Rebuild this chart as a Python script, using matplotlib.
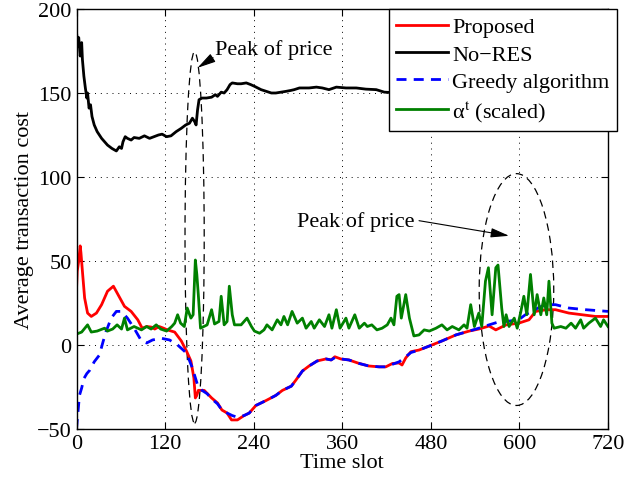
import numpy as np
import matplotlib
matplotlib.use('Agg')
import matplotlib.pyplot as plt
from matplotlib.patches import Ellipse

plt.rcParams['font.family'] = 'serif'
plt.rcParams['font.serif'] = ['Liberation Serif', 'DejaVu Serif']
plt.rcParams['mathtext.fontset'] = 'stix'
plt.rcParams['font.size'] = 16

# ---- data ----
# No-RES
t_nores = [0, 2, 3, 5, 7, 8, 10, 12, 14, 15, 17, 19, 21, 24, 28, 34, 42, 48, 54, 58, 61, 63, 66, 69,
           74, 78, 85, 92, 99, 105, 111, 116, 122, 128, 135, 142, 148, 153, 157, 160, 162, 164, 166,
           170, 176, 183, 188, 191, 196, 200, 204, 208, 211, 218, 223, 230, 236, 241, 250, 257, 264,
           270, 277, 284, 290, 295, 302, 315, 325, 333, 342, 352, 365, 379, 392, 406, 417, 440, 480,
           520, 560, 600, 640, 680, 720]
nores = [186, 178, 183, 172, 180, 170, 160, 153, 147, 150, 141, 143, 136, 131, 127, 123, 119, 117,
         115.5, 118, 117, 121, 124, 123, 122, 123.5, 123, 124.5, 123, 124, 125, 125.5, 124, 124.5,
         127, 129, 131, 132, 135, 133, 131, 140, 146, 147, 147, 147.5, 149, 148, 150.5, 150, 152,
         155, 156, 155.5, 155.5, 156, 155, 154, 152, 151, 150, 150, 150.5, 151, 151.5, 152, 153,
         153, 153.5, 153, 152, 153.5, 153, 153, 152.3, 152, 150.5, 150, 150, 150, 151, 151, 151,
         150, 150]

# Proposed
t_prop = [0, 1, 3, 5, 6, 8, 11, 15, 20, 27, 34, 42, 50, 55, 60, 65, 74, 83, 89, 95, 101, 106, 112,
          118, 123, 133, 142, 149, 155, 159, 161, 163, 165, 173, 183, 191, 197, 204, 210, 218, 227,
          234, 243, 257, 270, 279, 291, 297, 306, 315, 326, 338, 345, 350, 358, 369, 383, 396, 410,
          419, 428, 437, 441, 446, 453, 464, 478, 495, 514, 532, 545, 559, 568, 582, 599, 613, 622,
          636, 649, 667, 685, 703, 720]
prop = [33, 44, 50, 59, 55, 44, 28, 19, 17, 19, 24, 32, 35, 31, 27, 23, 20, 15, 10, 11, 10.7, 9.5,
        11, 10, 9, 7.7, 2.4, -3.6, -9.5, -19.6, -31.5, -30, -27, -27, -31.5, -34.5, -38.7, -40.5,
        -44.6, -44.6, -42, -40.5, -36, -33, -30, -27, -24.5, -21, -15.5, -12.5, -9.5, -8.3, -8.9,
        -7, -8.3, -8.9, -11, -12.5, -13, -13, -11, -10.7, -11.9, -7.7, -4, -3, -0.6, 2.4, 6, 8.3,
        9.5, 11.3, 9, 12, 13, 15, 20, 21, 21, 19, 18, 17, 17]

# Greedy algorithm
t_greedy = [0, 2, 4, 7, 10, 14, 18, 24, 31, 36, 40, 47, 54, 61, 69, 78, 88, 95, 103, 115, 126, 137,
            149, 157, 164, 170, 177, 183, 191, 197, 204, 211, 218, 227, 234, 243, 257, 270, 279,
            291, 297, 306, 315, 326, 338, 345, 350, 358, 369, 383, 396, 410, 419, 428, 437, 446,
            453, 464, 478, 495, 514, 532, 545, 559, 570, 582, 599, 608, 617, 627, 636, 649, 667,
            690, 720]
greedy = [-50, -40, -30, -25.6, -20, -17, -15, -10, -6, 2, 8, 16, 20, 20, 16, 10, 2.4, 1.2, 3, 4, 3,
          0, -4.8, -13.7, -23.8, -27, -29, -32, -35, -38.7, -40.5, -42, -43, -42, -40.5, -36, -33,
          -30, -27, -24.5, -21, -15.5, -12.5, -9.5, -8.3, -8.9, -7.5, -8.3, -8.9, -11, -12.5, -13,
          -13, -11.5, -10, -7, -4.5, -3, -0.6, 2.4, 6, 8.3, 10, 12, 13.5, 14, 15, 18, 20, 22.5, 24,
          24, 22, 21, 20]

# alpha^t (scaled)
t_alpha = [0, 7, 15, 20, 28, 38, 42, 49, 55, 61, 65, 69, 78, 88, 95, 101, 108, 114, 122, 129, 133,
           137, 141, 146, 150, 155, 158, 161, 163, 165, 168, 177, 183, 187, 193, 196, 200, 204, 207,
           211, 214, 223, 231, 237, 241, 248, 254, 258, 265, 272, 277, 281, 286, 292, 299, 306, 311,
           318, 322, 329, 336, 342, 346, 352, 357, 365, 369, 377, 383, 390, 394, 400, 407, 414, 421,
           426, 430, 434, 437, 440, 446, 451, 457, 464, 471, 478, 487, 495, 502, 509, 518, 525, 529,
           534, 539, 545, 549, 554, 558, 563, 568, 571, 576, 579, 582, 586, 593, 597, 602, 606, 610,
           615, 620, 624, 629, 633, 637, 640, 644, 647, 656, 663, 670, 676, 683, 687, 694, 703, 710,
           714, 720]
alpha = [6.5, 7.7, 12, 7.7, 8.3, 10, 8.3, 9.5, 12, 9.5, 16, 9, 11, 9, 11, 9.5, 12, 9.5, 8.3, 11, 13,
         18, 13, 11, 22, 16, 18, 50.6, 42, 30, 10, 12, 21, 12.5, 14, 29, 12, 14, 35, 18, 12, 12, 16,
         11, 8.3, 7, 9, 12, 9, 15, 12, 17, 12, 20, 13, 16, 10, 14, 10, 15, 11, 18, 10, 21, 10, 16,
         10, 18, 10, 13, 11, 12, 9, 10, 12, 16, 12, 29, 30, 16, 30, 16, 5.4, 6, 9, 8.3, 10, 12, 9,
         11, 9, 12, 10, 24, 11, 19, 11, 38, 46, 18, 46, 47.6, 22, 11, 18, 11, 16, 10, 20, 29, 18,
         42, 18, 30, 18, 28, 18, 38, 13, 10, 11, 10, 13, 10, 15, 10, 13, 16, 11, 15, 11]

xticks = [0, 120, 240, 360, 480, 600, 720]
yticks = [-50, 0, 50, 100, 150, 200]

# ---- figure ----
fig = plt.figure(figsize=(6.24, 4.85), dpi=100)
ax = fig.add_axes([76.5/624, 55/485, 531.5/624, 420/485])

ax.plot(t_prop, prop, color='red', lw=2, label='Proposed')
ax.plot(t_nores, nores, color='black', lw=2, label='No\u2212RES')
ax.plot(t_greedy, greedy, color='blue', lw=2, dashes=[3.6, 2.6], label='Greedy algorithm')
ax.plot(t_alpha, alpha, color='green', lw=2, label='\u03b1$^{\\rm t}$ (scaled)')

ax.set_xlim(0, 720)
ax.set_ylim(-50, 200)
ax.set_xticks(xticks)
ax.set_yticks(yticks)
ax.grid(True, color='black', linestyle=(0, (1, 5)), lw=0.7)
ax.tick_params(direction='in', top=True, right=True, length=5, width=0.8)
for s in ax.spines.values():
    s.set_linewidth(1)

ax.set_xlabel('Time slot', labelpad=0)
ax.set_ylabel('Average transaction cost', labelpad=2)

# dashed ellipses around price peaks
ax.add_patch(Ellipse((160, 64), 26, 221, fill=False, ls=(0, (6, 4)), lw=0.9, color='black'))
ax.add_patch(Ellipse((596, 33), 101, 138, fill=False, ls=(0, (6, 4)), lw=0.9, color='black'))

# annotations
arrow = dict(arrowstyle='-|>,head_length=0.7,head_width=0.18', lw=0.8, color='black',
             mutation_scale=16, shrinkA=0, shrinkB=0)
ax.text(187, 176, 'Peak of price', ha='left', va='center')
ax.annotate('', xy=(164, 165), xytext=(185, 171), arrowprops=arrow)
ax.text(299, 74, 'Peak of price', ha='left', va='center')
ax.annotate('', xy=(586, 65), xytext=(464, 74), arrowprops=arrow)

leg = ax.legend(loc='upper right', bbox_to_anchor=(1.017, 1.0), borderaxespad=0,
                fancybox=False, framealpha=1, edgecolor='black', handlelength=2.3,
                handletextpad=0.2, labelspacing=0.3, borderpad=0.35)
leg.get_frame().set_linewidth(1)
leg.set_zorder(5)

fig.savefig('out.png', dpi=100)
